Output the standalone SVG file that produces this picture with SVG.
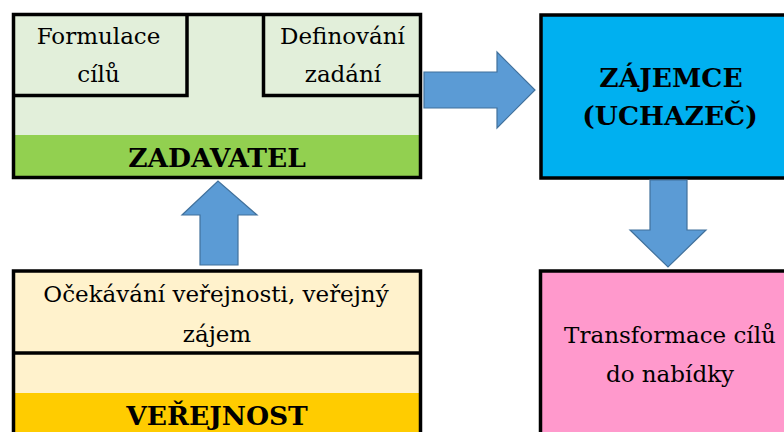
<svg xmlns="http://www.w3.org/2000/svg" width="784" height="432" viewBox="0 0 784 432">
<style>
.bx{stroke:#000;stroke-width:3.5;fill:none}
.ln{stroke:#000;stroke-width:3.5;fill:none}
.t{font-family:"DejaVu Serif","Liberation Serif","Times New Roman",serif;font-size:23px;fill:#000;text-anchor:middle}
.b{font-family:"DejaVu Serif","Liberation Serif","Times New Roman",serif;font-size:26.5px;font-weight:bold;fill:#000;text-anchor:middle}
.ar{fill:#5B9BD5;stroke:#41719C;stroke-width:1.2}
</style>
<rect width="784" height="432" fill="#fff"/>
<g id="zadavatel">
<rect x="13.5" y="14.5" width="407" height="163" fill="#E2EFDA"/>
<rect x="15" y="135" width="404" height="41" fill="#92D050"/>
<path class="ln" d="M13.5,95.5 H187 V14.5 M263.5,14.5 V95.5 H420.5"/>
<rect class="bx" x="13.5" y="14.5" width="407" height="163"/>
<text class="t" x="98.5" y="43.5">Formulace</text>
<text class="t" x="98.5" y="81.5">cílů</text>
<text class="t" x="342.5" y="43.5">Definování</text>
<text class="t" x="343" y="81.5">zadání</text>
<text class="b" x="217" y="166.5">ZADAVATEL</text>
</g>
<g id="verejnost">
<rect x="13.5" y="271" width="407" height="170" fill="#FFF2CC"/>
<rect x="15" y="393" width="404" height="45" fill="#FFCC00"/>
<path class="ln" d="M13.5,353 H420.5"/>
<rect class="bx" x="13.5" y="271" width="407" height="175"/>
<text class="t" x="216" y="301.5">Očekávání veřejnosti, veřejný</text>
<text class="t" x="217" y="341.5">zájem</text>
<text class="b" x="217" y="425">VEŘEJNOST</text>
</g>
<g id="zajemce">
<rect x="541" y="15" width="260" height="163" fill="#00B0F0"/>
<rect class="bx" x="541" y="15" width="260" height="163"/>
<text class="b" x="671" y="86.5">ZÁJEMCE</text>
<text class="b" x="670" y="125">(UCHAZEČ)</text>
</g>
<g id="transformace">
<rect x="540.5" y="271" width="260" height="175" fill="#FF99CC"/>
<rect class="bx" x="540.5" y="271" width="260" height="175"/>
<text class="t" x="670" y="343">Transformace cílů</text>
<text class="t" x="670" y="381.5">do nabídky</text>
</g>
<g id="connectors">
<polygon class="ar" points="200,265 200,215 182,215 218,181 257,215 238,215 238,265"/>
<polygon class="ar" points="424,72 497,72 497,52 535,90 497,128 497,108 424,108"/>
<polygon class="ar" points="650,180 687,180 687,230 706,230 668,267 630,230 650,230"/>
</g>
</svg>
